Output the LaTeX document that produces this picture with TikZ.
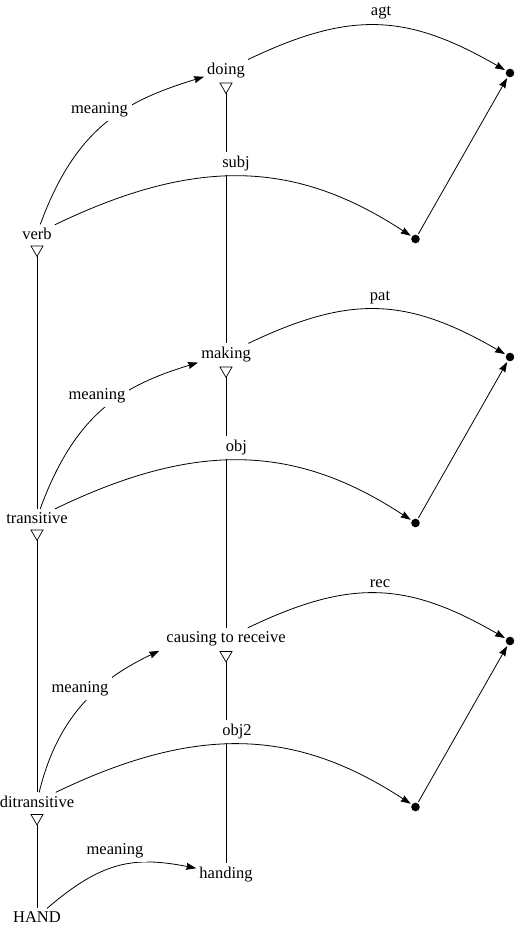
\documentclass[tikz,border=0pt]{standalone}
\usepackage{fontspec}
\setmainfont{Liberation Serif}
\usetikzlibrary{arrows.meta,shapes.geometric}
\begin{document}
\begin{tikzpicture}[x=1pt,y=-1pt,
  every node/.style={font=\fontsize{16.5}{19}\selectfont, inner sep=3pt},
  word/.style={anchor=base},
  lbl/.style={anchor=base, fill=white, inner sep=4pt},
  isatri/.style={draw, fill=white, regular polygon, regular polygon sides=3,
    shape border rotate=180, minimum size=13.9pt, inner sep=0pt, outer sep=0pt, line width=0.7pt},
  dotnode/.style={circle, fill=black, minimum size=8.6pt, inner sep=0pt, outer sep=1.5pt},
  link/.style={line width=0.8pt},
  arr/.style={line width=0.8pt, -{Stealth[length=10pt,width=7pt,inset=1pt]}},
]
\useasboundingbox (0,0) rectangle (515,926);

% words
\node[word] (verb) at (37,239) {verb};
\node[word] (trans) at (37,523) {transitive};
\node[word] (ditrans) at (37,807) {ditransitive};
\node[word] (hand) at (37,922.5) {HAND};
\node[word] (doing) at (226,74) {doing};
\node[word] (making) at (226,358) {making};
\node[word] (causing) at (226,642) {causing to receive};
\node[word] (handing) at (226,878) {handing};

% isa triangles
\node[isatri] (tverb) at (37,249.5) {};
\node[isatri] (ttrans) at (37,533.5) {};
\node[isatri] (tditrans) at (37,818) {};
\node[isatri] (tdoing) at (226,86.5) {};
\node[isatri] (tmaking) at (226,370.5) {};
\node[isatri] (tcausing) at (226,655) {};

% dots
\node[dotnode] (a1) at (510,73) {};
\node[dotnode] (a2) at (415.5,239) {};
\node[dotnode] (b1) at (510,357) {};
\node[dotnode] (b2) at (415.5,523) {};
\node[dotnode] (c1) at (510,641) {};
\node[dotnode] (c2) at (415.5,807) {};

% isa lines
\draw[link] (tverb.corner 1) -- (trans.north);
\draw[link] (ttrans.corner 1) -- (ditrans.north);
\draw[link] (tditrans.corner 1) -- (hand.north);
\draw[link] (tdoing.corner 1) -- (making.north);
\draw[link] (tmaking.corner 1) -- (causing.north);
\draw[link] (tcausing.corner 1) -- (handing.north);

% labels on the middle line
\node[lbl] (lsubj) at (236,167) {subj};
\node[lbl] (lobj) at (236.5,451) {obj};
\node[lbl] (lobjj) at (237,735) {obj2};

% long relation arcs
\draw[arr] (verb) .. controls (196.6,156.5) and (295.6,160.2) .. (a2);
\draw[arr] (trans) .. controls (196.6,440.5) and (295.6,444.2) .. (b2);
\draw[arr] (ditrans) .. controls (196.6,724.5) and (295.6,728.2) .. (c2);

\draw[arr] (doing) .. controls (350.8,10.4) and (407.1,13.5) .. (a1);
\draw[arr] (making) .. controls (350.8,294.4) and (407.1,297.5) .. (b1);
\draw[arr] (causing) .. controls (350.8,578.4) and (407.1,581.5) .. (c1);

\draw[arr] (a2) -- (a1);
\draw[arr] (b2) -- (b1);
\draw[arr] (c2) -- (c1);

\node[word] (lagt) at (381,15) {agt};
\node[word] (lpat) at (380,300) {pat};
\node[word] (lrec) at (380,587) {rec};

% meaning arcs
\draw[arr] (verb) .. controls (75.8,127.6) and (124.3,101.1) .. (doing);
\draw[arr] (trans) .. controls (75.8,411.6) and (124.3,385.1) .. (making);
\draw[arr] (ditrans) .. controls (59,710.1) and (105.6,676.4) .. ([shift={(-4pt,-2pt)}]causing.south west);
\draw[arr] (hand) .. controls (101.9,861.1) and (133.7,856) .. (handing);

\node[lbl] (lm1) at (99.5,113) {meaning};
\node[lbl] (lm2) at (97,399) {meaning};
\node[lbl] (lm3) at (80,692) {meaning};
\node[lbl] (lm4) at (115,854) {meaning};
\end{tikzpicture}
\end{document}
